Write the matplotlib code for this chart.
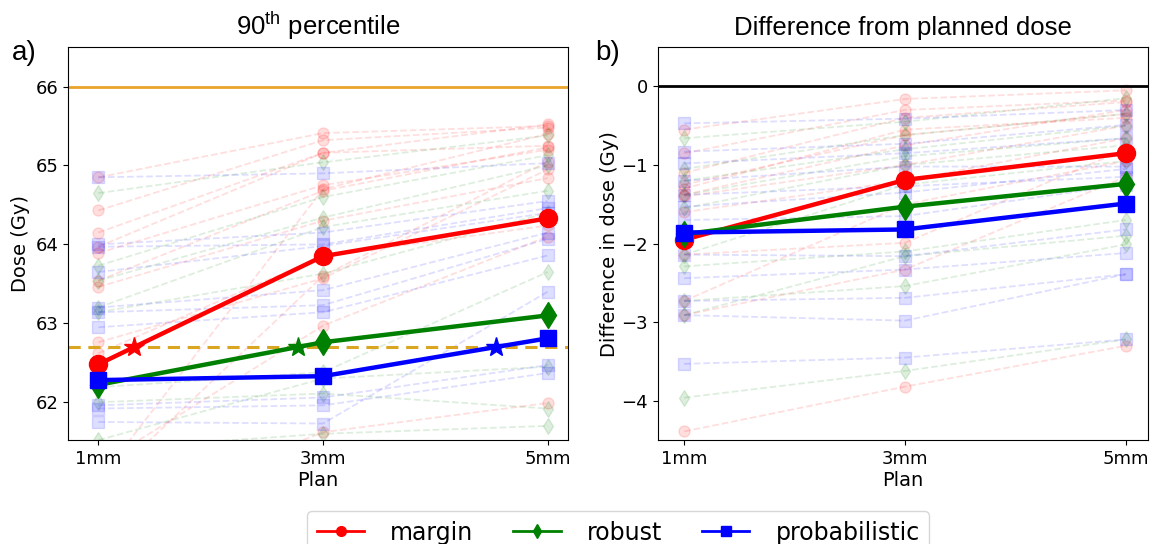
# -*- coding: utf-8 -*-
import numpy as np
from matplotlib import pyplot as plt
from matplotlib.lines import Line2D

plt.rcParams['mathtext.fontset'] = 'custom'
plt.rcParams['mathtext.rm'] = 'Liberation Sans'

PLANS = ['1mm', '3mm', '5mm']
X_POS = [1, 3, 5]

# per-patient values, panel a (90th percentile dose, Gy)
margin_a = [
    [64.85, 65.41, 65.50], [64.43, 65.32, 65.48], [64.15, 65.16, 65.25],
    [63.97, 65.16, 65.52], [63.89, 64.75, 65.20], [63.54, 64.68, 65.23],
    [63.46, 64.30, 64.84], [62.76, 63.57, 64.95], [62.62, 63.85, 64.24],
    [61.20, 62.97, 64.10], [60.90, 63.60, 65.05], [60.50, 61.62, 61.99],
    [61.00, 64.70, 65.40],
]
robust_a = [
    [64.65, 65.04, 65.38], [63.73, 64.60, 65.13], [63.54, 64.34, 65.00],
    [63.20, 64.22, 64.68], [63.14, 63.63, 64.40], [62.19, 62.38, 63.65],
    [62.00, 62.11, 61.92], [61.52, 62.30, 62.45], [61.40, 61.60, 61.70],
]
prob_a = [
    [64.85, 64.90, 65.03], [64.00, 64.15, 64.55], [63.97, 64.00, 64.46],
    [63.65, 63.98, 64.40], [63.20, 63.42, 64.15], [63.14, 63.23, 64.07],
    [62.95, 63.14, 63.86], [61.96, 62.06, 62.47], [61.92, 61.96, 62.37],
    [61.75, 61.73, 63.40],
]
# per-patient values, panel b (difference from planned dose, Gy)
margin_b = [
    [-0.55, -0.16, -0.05], [-0.85, -0.30, -0.18], [-1.10, -0.40, -0.20],
    [-1.25, -0.62, -0.35], [-1.38, -0.75, -0.30], [-1.40, -1.00, -0.50],
    [-1.60, -1.20, -0.66], [-2.14, -1.99, -0.80], [-2.73, -1.50, -0.95],
    [-2.91, -2.33, -1.15], [-4.39, -3.82, -3.30], [-1.30, -0.55, -0.40],
]
robust_b = [
    [-0.66, -0.45, -0.15], [-1.05, -0.62, -0.35], [-1.38, -0.89, -0.66],
    [-1.55, -1.00, -0.75], [-2.14, -1.25, -0.95], [-2.29, -2.10, -1.70],
    [-2.73, -2.54, -2.01], [-2.91, -2.16, -1.90], [-3.96, -3.62, -3.22],
    [-1.20, -0.80, -0.50],
]
prob_b = [
    [-0.47, -0.41, -0.30], [-0.83, -0.73, -0.49], [-0.98, -0.85, -0.66],
    [-1.20, -1.02, -1.02], [-1.38, -1.27, -1.15], [-1.53, -1.35, -1.05],
    [-1.70, -1.65, -1.25], [-2.14, -2.16, -1.82], [-2.44, -2.33, -2.12],
    [-2.73, -2.69, -2.39], [-2.91, -2.98, -2.39], [-3.53, -3.45, -3.22],
]

# group means
margin_mean_a = [62.48, 63.85, 64.33]
robust_mean_a = [62.22, 62.76, 63.10]
prob_mean_a = [62.28, 62.33, 62.81]
margin_mean_b = [-1.95, -1.19, -0.85]
robust_mean_b = [-1.88, -1.53, -1.24]
prob_mean_b = [-1.86, -1.82, -1.49]

LIMIT_MAX = 66.0
LIMIT_MIN = 62.7

METHODS = ['margin', 'robust', 'probabilistic']
COLORS = ['red', 'green', 'blue']
MARKERS = ['o', 'd', 's']
MAIN_MS = [13, 13, 12]

TITLE_FONT = ['Liberation Sans', 'DejaVu Sans']


def first_crossing(xs, ys, level):
    for i in range(len(xs) - 1):
        y0, y1 = ys[i], ys[i + 1]
        if (y0 - level) * (y1 - level) <= 0 and y0 != y1:
            return xs[i] + (level - y0) / (y1 - y0) * (xs[i + 1] - xs[i])
    return None


fig = plt.figure(figsize=(11.6, 5.44), dpi=100)
ax_a = fig.add_axes([0.0586, 0.191, 0.431, 0.7224])
ax_b = fig.add_axes([0.567, 0.191, 0.4224, 0.7224])

# faint per-patient lines
for ax, groups in ((ax_a, (margin_a, robust_a, prob_a)),
                   (ax_b, (margin_b, robust_b, prob_b))):
    for rows, c, m in zip(groups, COLORS, MARKERS):
        for row in rows:
            ax.plot(X_POS, row, linestyle='--', color=c, marker=m, alpha=0.13,
                    markersize=8, linewidth=1.3)

# reference lines
ax_a.axhline(LIMIT_MAX, color='#e9a42a', linewidth=2)
ax_a.axhline(LIMIT_MIN, color='goldenrod', linewidth=2.2, linestyle='--', dashes=(4, 2.5))
ax_b.axhline(0, color='black', linewidth=2)

# mean lines
for ax, means in ((ax_a, (margin_mean_a, robust_mean_a, prob_mean_a)),
                  (ax_b, (margin_mean_b, robust_mean_b, prob_mean_b))):
    for vals, c, m, ms in zip(means, COLORS, MARKERS, MAIN_MS):
        ax.plot(X_POS, vals, color=c, marker=m, markersize=ms, linewidth=3.2, zorder=5)

# stars where the means cross the lower limit
for vals, c in zip((margin_mean_a, robust_mean_a, prob_mean_a), COLORS):
    xc = first_crossing(X_POS, vals, LIMIT_MIN)
    if xc is not None:
        ax_a.plot([xc], [LIMIT_MIN], marker='*', color=c, markersize=15, zorder=6)

ax_a.set_xlim(0.73, 5.18)
ax_a.set_ylim(61.52, 66.5)
ax_a.set_yticks([62, 63, 64, 65, 66])
ax_b.set_xlim(0.76, 5.2)
ax_b.set_ylim(-4.5, 0.5)
ax_b.set_yticks([0, -1, -2, -3, -4])
ax_b.set_yticklabels(['0', '\u22121', '\u22122', '\u22123', '\u22124'])

for ax in (ax_a, ax_b):
    ax.set_xticks(X_POS)
    ax.set_xticklabels(PLANS)
    ax.tick_params(labelsize=13)
    ax.set_xlabel('Plan', fontsize=14, labelpad=2)

ax_a.set_ylabel('Dose (Gy)', fontsize=14, labelpad=4)
ax_b.set_ylabel('Difference in dose (Gy)', fontsize=14, labelpad=2)

ax_a.set_title('90$^{\\mathrm{th}}$ percentile', fontsize=18.5, family=TITLE_FONT, pad=9)
ax_b.set_title('Difference from planned dose', fontsize=18.5, family=TITLE_FONT, pad=9)

fig.text(0.01, 0.89, 'a)', fontsize=20, family=TITLE_FONT)
fig.text(0.513, 0.89, 'b)', fontsize=20, family=TITLE_FONT)

handles = [Line2D([0], [0], color=c, marker=m, markersize=7, linewidth=2)
           for c, m in zip(COLORS, MARKERS)]
fig.legend(handles, METHODS, loc='lower center', ncol=3, fontsize=17,
           bbox_to_anchor=(0.533, -0.04), columnspacing=1.7, handlelength=2.0,
           handletextpad=1.1, frameon=True)

fig.savefig('out.png', dpi=100)
plt.close()
